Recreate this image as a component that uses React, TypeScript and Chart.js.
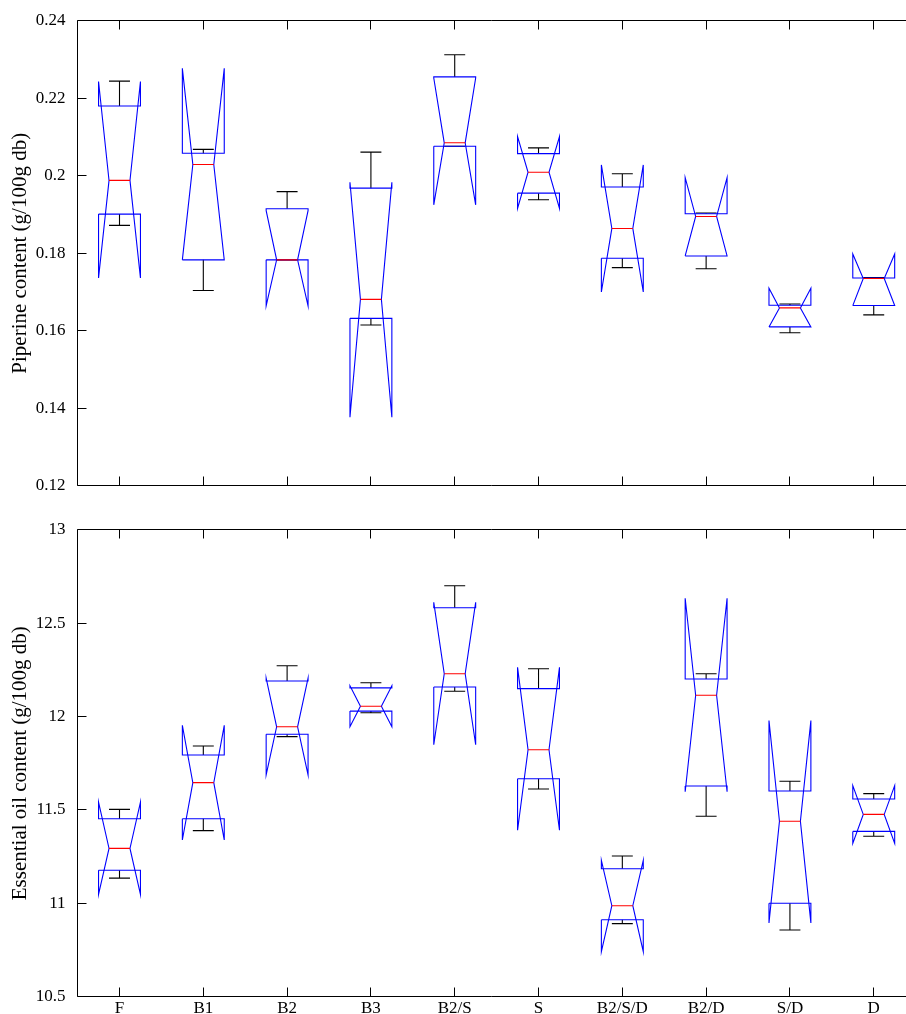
import React, { useEffect, useRef } from 'react';
import { Chart, registerables } from 'chart.js';

Chart.register(...registerables);

// ---------- data ----------
const categories = ['F', 'B1', 'B2', 'B3', 'B2/S', 'S', 'B2/S/D', 'B2/D', 'S/D', 'D'];

// Piperine content (g/100g db)
const pipLowerWhisker = [0.1872, 0.1704, 0.1783, 0.1615, 0.2076, 0.1938, 0.1763, 0.1760, 0.1595, 0.1641];
const pipQ1 = [0.1901, 0.1783, 0.1783, 0.1632, 0.2076, 0.1955, 0.1787, 0.1793, 0.1610, 0.1665];
const pipMedian = [0.1988, 0.2029, 0.1783, 0.1681, 0.2085, 0.2009, 0.1864, 0.1895, 0.1659, 0.1735];
const pipQ3 = [0.2180, 0.2058, 0.1915, 0.1968, 0.2255, 0.2057, 0.1971, 0.1902, 0.1666, 0.1736];
const pipUpperWhisker = [0.2244, 0.2068, 0.1959, 0.2061, 0.2312, 0.2072, 0.2005, 0.1904, 0.1669, 0.1737];
const pipNotchLow = [0.1736, 0.1783, 0.1664, 0.1377, 0.1925, 0.1916, 0.1700, 0.1793, 0.1610, 0.1665];
const pipNotchHigh = [0.2243, 0.2277, 0.1910, 0.1983, 0.2252, 0.2101, 0.2028, 0.1995, 0.1710, 0.1798];
const pipYTicks = [0.12, 0.14, 0.16, 0.18, 0.2, 0.22, 0.24];

// Essential oil content (g/100g db)
const eoLowerWhisker = [11.135, 11.389, 11.892, 12.020, 12.135, 11.612, 10.891, 11.466, 10.857, 11.359];
const eoQ1 = [11.177, 11.453, 11.905, 12.029, 12.158, 11.667, 10.912, 11.628, 11.000, 11.385];
const eoMedian = [11.294, 11.646, 11.945, 12.055, 12.229, 11.822, 10.987, 12.114, 11.439, 11.476];
const eoQ3 = [11.453, 11.794, 12.190, 12.153, 12.582, 12.149, 11.185, 12.201, 11.601, 11.558];
const eoUpperWhisker = [11.503, 11.842, 12.272, 12.181, 12.700, 12.256, 11.253, 12.229, 11.653, 11.587];
const eoNotchLow = [11.048, 11.339, 11.687, 11.945, 11.849, 11.391, 10.741, 11.597, 10.895, 11.321];
const eoNotchHigh = [11.541, 11.953, 12.205, 12.165, 12.611, 12.263, 11.230, 12.633, 11.978, 11.630];
const eoYTicks = [10.5, 11, 11.5, 12, 12.5, 13];

// ---------- styling ----------
const FONT = '"Liberation Serif", "Times New Roman", serif';
const BOX_HALF = 0.25;
const X_MIN = 0.5;
const X_MAX = 10.385;
const Y_AXIS_WIDTH = 77.6;
const TICK_LEN = 9;

type Pt = { x: number; y: number | null };

function buildDatasets(
  lw: number[], q1: number[], med: number[], q3: number[], uw: number[], nlo: number[], nhi: number[]
) {
  const box: Pt[] = [];
  const medians: Pt[] = [];
  const whiskers: Pt[] = [];
  categories.forEach((_, i) => {
    const x = i + 1;
    const w = BOX_HALF;
    const h = w / 2;
    box.push(
      { x: x - w, y: q1[i] }, { x: x - w, y: nlo[i] }, { x: x - h, y: med[i] }, { x: x - w, y: nhi[i] },
      { x: x - w, y: q3[i] }, { x: x + w, y: q3[i] }, { x: x + w, y: nhi[i] }, { x: x + h, y: med[i] },
      { x: x + w, y: nlo[i] }, { x: x + w, y: q1[i] }, { x: x - w, y: q1[i] }, { x, y: null }
    );
    medians.push({ x: x - h, y: med[i] }, { x: x + h, y: med[i] }, { x, y: null });
    whiskers.push({ x, y: q3[i] }, { x, y: uw[i] }, { x: x - h, y: uw[i] }, { x: x + h, y: uw[i] }, { x, y: null });
    whiskers.push({ x, y: q1[i] }, { x, y: lw[i] }, { x: x - h, y: lw[i] }, { x: x + h, y: lw[i] }, { x, y: null });
  });
  const common = { pointRadius: 0, borderWidth: 1.1, tension: 0, fill: false, spanGaps: false };
  return [
    { ...common, label: 'median', data: medians, borderColor: '#ff0000' },
    { ...common, label: 'box', data: box, borderColor: '#0000ff' },
    { ...common, label: 'whisker', data: whiskers, borderColor: '#000000' },
  ];
}

const crisp = (v: number) => Math.floor(v) + 0.5;

const framePlugin = {
  id: 'matlabFrame',
  afterDraw(chart: any) {
    const { ctx, chartArea: a, scales } = chart;
    const L = crisp(a.left);
    const T = crisp(a.top);
    const B = crisp(a.bottom - 0.01);
    const R = a.right;
    ctx.save();
    ctx.strokeStyle = '#000';
    ctx.lineWidth = 1;
    ctx.beginPath();
    ctx.moveTo(R, T); ctx.lineTo(L, T); ctx.lineTo(L, B); ctx.lineTo(R, B);
    scales.y.ticks.forEach((t: any) => {
      let y = crisp(scales.y.getPixelForValue(t.value));
      if (Math.abs(y - B) < 1.5) y = B;
      if (Math.abs(y - T) < 1.5) y = T;
      ctx.moveTo(L, y); ctx.lineTo(L + TICK_LEN, y);
    });
    scales.x.ticks.forEach((t: any) => {
      const x = crisp(scales.x.getPixelForValue(t.value));
      ctx.moveTo(x, T); ctx.lineTo(x, T + TICK_LEN);
      ctx.moveTo(x, B); ctx.lineTo(x, B - TICK_LEN);
    });
    ctx.stroke();
    ctx.restore();
  },
};

type BoxChartProps = {
  top: number;
  height: number;
  padTop: number;
  xAxisHeight: number;
  showXLabels: boolean;
  yMin: number;
  yMax: number;
  yTicks: number[];
  title: string;
  datasets: any[];
};

function BoxChart(p: BoxChartProps) {
  const ref = useRef<HTMLCanvasElement | null>(null);
  useEffect(() => {
    if (!ref.current) return;
    const chart = new Chart(ref.current, {
      type: 'line',
      data: { datasets: p.datasets },
      plugins: [framePlugin],
      options: {
        animation: false,
        responsive: false,
        events: [],
        layout: { padding: { top: p.padTop, left: 0, right: 0, bottom: 0 } },
        plugins: { legend: { display: false }, tooltip: { enabled: false } },
        scales: {
          x: {
            type: 'linear',
            min: X_MIN,
            max: X_MAX,
            grid: { display: false },
            border: { display: false },
            afterBuildTicks: (s: any) => {
              s.ticks = categories.map((_, i) => ({ value: i + 1 }));
            },
            afterFit: (s: any) => {
              s.height = p.xAxisHeight;
            },
            ticks: {
              display: p.showXLabels,
              autoSkip: false,
              maxRotation: 0,
              padding: -6,
              color: '#000',
              font: { family: FONT, size: 17 },
              callback: (v: any) => categories[Math.round(Number(v)) - 1] ?? '',
            },
          },
          y: {
            type: 'linear',
            min: p.yMin,
            max: p.yMax,
            grid: { display: false },
            border: { display: false },
            afterBuildTicks: (s: any) => {
              s.ticks = p.yTicks.map((v) => ({ value: v }));
            },
            afterFit: (s: any) => {
              s.width = Y_AXIS_WIDTH;
            },
            ticks: {
              padding: 4,
              color: '#000',
              font: { family: FONT, size: 17 },
              callback: (v: any) => String(parseFloat(Number(v).toFixed(4))),
            },
            title: {
              display: true,
              text: p.title,
              color: '#000',
              font: { family: FONT, size: 21 },
              padding: { top: 8, bottom: 0 },
            },
          },
        },
      } as any,
    });
    return () => chart.destroy();
  }, []);
  return (
    <canvas
      ref={ref}
      width={906}
      height={p.height}
      style={{ position: 'absolute', left: 0, top: p.top, width: 906, height: p.height }}
    />
  );
}

export default function App() {
  const pipSets = buildDatasets(pipLowerWhisker, pipQ1, pipMedian, pipQ3, pipUpperWhisker, pipNotchLow, pipNotchHigh);
  const eoSets = buildDatasets(eoLowerWhisker, eoQ1, eoMedian, eoQ3, eoUpperWhisker, eoNotchLow, eoNotchHigh);
  return (
    <div style={{ position: 'absolute', left: 0, top: 0, width: 906, height: 1014, background: '#fff', overflow: 'hidden' }}>
      <BoxChart
        top={0}
        height={500}
        padTop={20.7}
        xAxisHeight={14}
        showXLabels={false}
        yMin={0.12}
        yMax={0.24}
        yTicks={pipYTicks}
        title="Piperine content (g/100g db)"
        datasets={pipSets}
      />
      <BoxChart
        top={500}
        height={514}
        padTop={29.7}
        xAxisHeight={17.3}
        showXLabels={true}
        yMin={10.5}
        yMax={13}
        yTicks={eoYTicks}
        title="Essential oil content (g/100g db)"
        datasets={eoSets}
      />
    </div>
  );
}
